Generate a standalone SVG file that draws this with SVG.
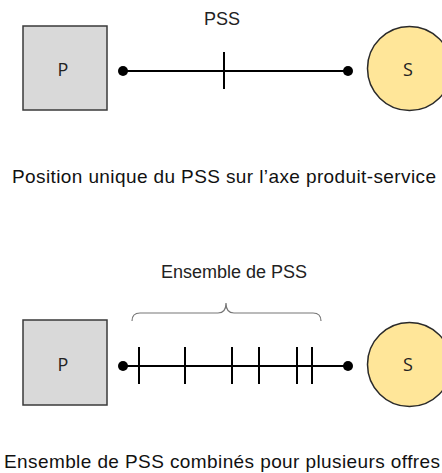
<svg xmlns="http://www.w3.org/2000/svg" width="442" height="473" viewBox="0 0 442 473">
<style>
.box{fill:#d9d9d9;stroke:#3a3a3a;stroke-width:1.5}
.circ{fill:#ffe699;stroke:#2a2a2a;stroke-width:1.5}
.lbl{font-family:"Open Sans","Noto Sans",sans-serif;font-size:18px;fill:#222;text-anchor:middle}
.ttl{font-family:"Liberation Sans",Arial,sans-serif;font-size:18px;fill:#222;text-anchor:middle}
.cap{font-family:"Liberation Sans",Arial,sans-serif;font-size:19px;fill:#111}
.axis{stroke:#000;stroke-width:2;fill:none}
.tick{stroke:#000;stroke-width:2}
.dot{fill:#000}
.brace{stroke:#777;stroke-width:1.2;fill:none}
</style>
<rect width="442" height="473" fill="#fff"/>
<g id="p1"><rect class="box" x="23" y="26" width="84" height="84"/><text class="lbl" x="63" y="76">P</text></g>
<g id="s1"><circle class="circ" cx="409.5" cy="68.5" r="42"/><text class="lbl" x="408" y="76">S</text></g>
<g id="p2"><rect class="box" x="23" y="320" width="84" height="85"/><text class="lbl" x="63" y="371">P</text></g>
<g id="s2"><circle class="circ" cx="409.5" cy="364.5" r="42"/><text class="lbl" x="408" y="371">S</text></g>
<g id="connectors">
<line class="axis" x1="123" y1="71" x2="348" y2="71"/>
<circle class="dot" cx="123" cy="71" r="5"/><circle class="dot" cx="348" cy="71" r="5"/>
<line class="tick" x1="224" y1="52" x2="224" y2="89"/>
<line class="axis" x1="123" y1="366" x2="348" y2="366"/>
<circle class="dot" cx="123" cy="366" r="5"/><circle class="dot" cx="348" cy="366" r="5"/>
<line class="tick" x1="139" y1="347" x2="139" y2="384"/>
<line class="tick" x1="185" y1="347" x2="185" y2="384"/>
<line class="tick" x1="232" y1="347" x2="232" y2="384"/>
<line class="tick" x1="259" y1="347" x2="259" y2="384"/>
<line class="tick" x1="297" y1="347" x2="297" y2="384"/>
<line class="tick" x1="312" y1="347" x2="312" y2="384"/>
<path class="brace" d="M132,321 Q132,313 140,313 L218,313 Q226,313 226,303 Q226,313 234,313 L313,313 Q321,313 321,321"/>
</g>
<g id="labels">
<text class="ttl" x="222" y="25">PSS</text>
<text class="ttl" x="234" y="278">Ensemble de PSS</text>
<text class="cap" x="12" y="183" textLength="424" lengthAdjust="spacing">Position unique  du  PSS sur  l’axe  produit-service</text>
<text class="cap" x="4" y="468" textLength="436" lengthAdjust="spacing">Ensemble  de PSS combinés pour plusieurs  offres</text>
</g>
</svg>
